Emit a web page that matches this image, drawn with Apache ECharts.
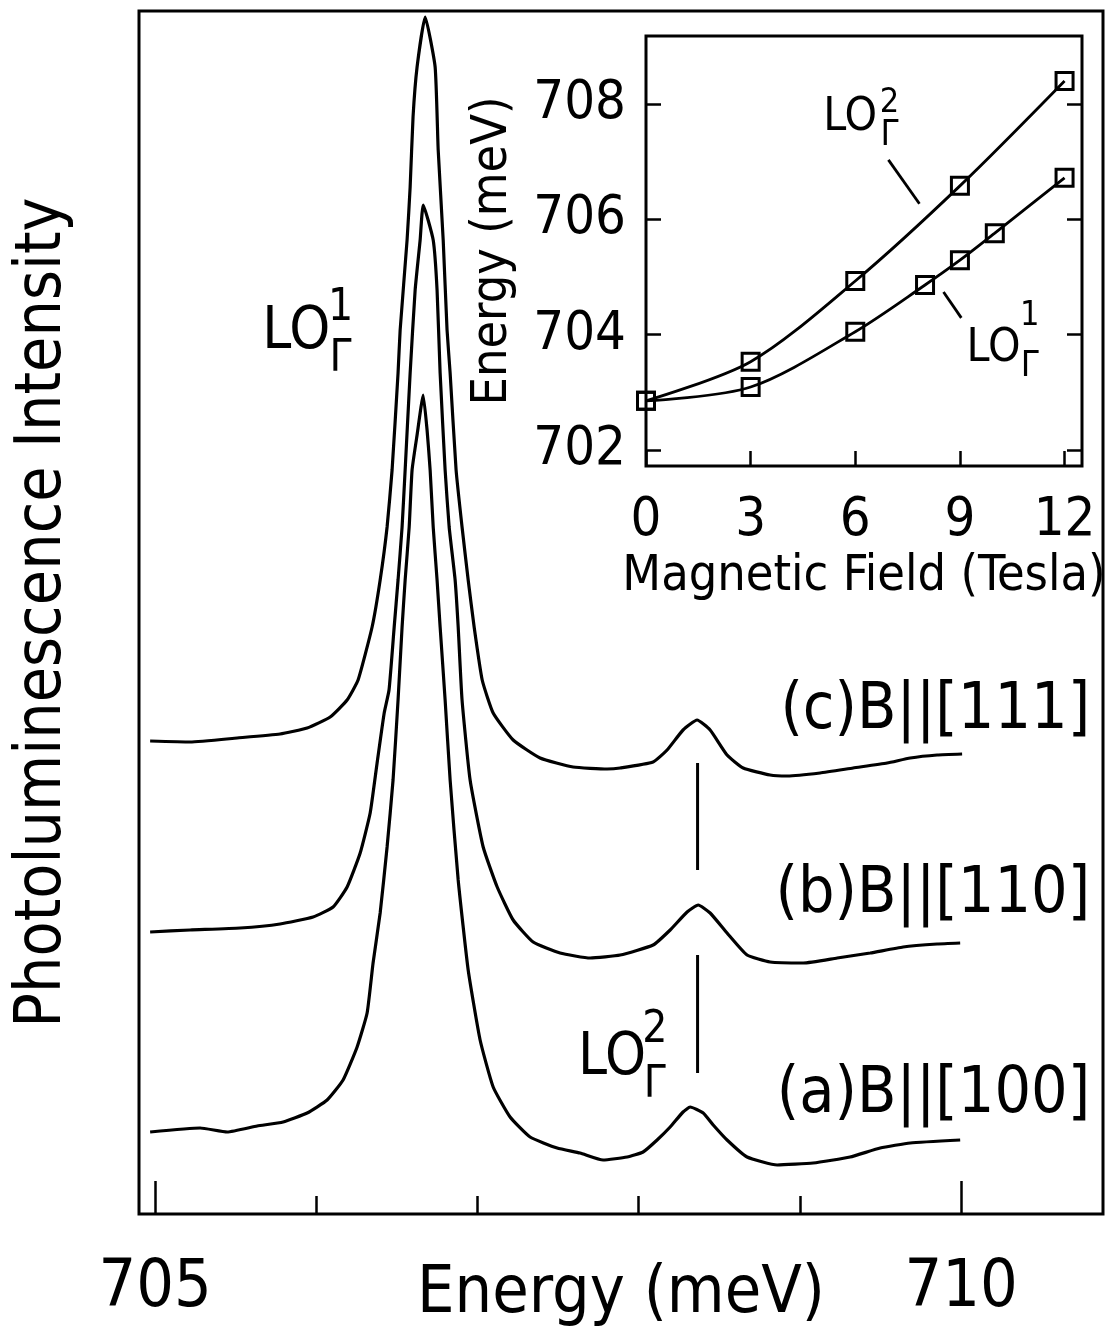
<!DOCTYPE html>
<html><head><meta charset="utf-8">
<script src="https://cdn.jsdelivr.net/npm/echarts@6/dist/echarts.min.js"></script>
<style>html,body{margin:0;padding:0;background:#fff}#c{width:1108px;height:1332px}</style>
</head><body><div id="c"></div>
<script>
// ---- main spectra: photon energy (meV) and PL intensity (arb. units, offset) ----
const energyA = [704.969,705.279,705.447,705.633,705.794,705.943,706.067,706.166,706.253,706.315,706.352,706.396,706.439,706.476,706.507,706.532,706.551,706.576,706.594,706.625,706.663,706.687,706.706,706.725,706.749,706.768,706.799,706.830,706.880,706.942,707.016,707.097,707.202,707.326,707.494,707.636,707.779,707.928,708.027,708.114,708.195,708.275,708.319,708.400,708.462,708.548,708.672,708.859,709.082,709.311,709.498,709.684,709.994];
const intensityA = [0.82,0.86,0.82,0.88,0.92,1.01,1.14,1.34,1.67,2.01,2.51,3.01,3.67,4.34,5.14,5.87,6.34,6.87,7.44,7.79,8.19,7.84,7.44,6.87,6.34,5.87,5.14,4.34,3.34,2.44,1.74,1.27,0.97,0.77,0.66,0.61,0.54,0.57,0.62,0.74,0.87,1.02,1.07,1.01,0.89,0.74,0.57,0.49,0.51,0.57,0.66,0.71,0.74];
const energyB = [704.969,705.217,705.527,705.775,705.980,706.104,706.191,706.272,706.334,706.377,706.421,706.451,706.483,706.507,706.532,706.551,706.582,706.613,706.644,706.663,706.725,706.749,706.768,706.799,706.824,706.861,706.880,706.904,706.954,707.035,707.122,707.221,707.345,707.512,707.699,707.885,708.089,708.195,708.300,708.369,708.443,708.548,708.672,708.815,709.020,709.231,709.436,709.640,709.851,709.994];
const intensityB = [2.82,2.84,2.86,2.90,2.97,3.07,3.27,3.61,4.01,4.51,5.01,5.24,5.87,6.34,6.87,7.44,8.41,9.24,9.74,10.09,9.74,9.24,8.41,7.44,6.87,6.34,5.87,5.14,4.34,3.67,3.27,2.94,2.72,2.61,2.56,2.59,2.69,2.84,3.02,3.09,3.01,2.81,2.59,2.52,2.51,2.56,2.61,2.67,2.70,2.71];
const energyC = [704.969,705.217,705.509,705.775,705.943,706.086,706.191,706.259,706.346,706.396,706.439,706.470,706.507,706.520,706.563,706.582,706.600,706.625,706.675,706.737,706.756,706.787,706.811,706.830,706.867,706.904,706.942,706.979,707.029,707.097,707.221,707.388,707.593,707.804,707.885,708.089,708.176,708.275,708.362,708.443,708.548,708.648,708.815,708.921,709.125,709.330,709.541,709.684,709.851,710.006];
const intensityC = [4.73,4.72,4.76,4.80,4.86,4.97,5.14,5.34,5.87,6.34,6.87,7.44,8.41,8.84,9.74,10.27,10.97,11.47,11.97,11.47,10.64,9.74,8.84,8.41,7.44,6.87,6.34,5.87,5.34,5.01,4.74,4.56,4.47,4.45,4.46,4.52,4.64,4.84,4.94,4.84,4.59,4.46,4.39,4.38,4.41,4.46,4.51,4.56,4.59,4.60];
// LO2 position marker (vertical strokes between spectra)
const markerEnergy = 708.365;
const markerUpper = [3.44, 4.51];
const markerLower = [1.41, 2.59];
// ---- inset: magnetic field (T) vs energy (meV) ----
const fieldLO2 = [0, 3, 6, 9, 12];
const energyLO2 = [702.85, 703.53, 704.93, 706.58, 708.40];
const fieldLO1 = [0, 3, 6, 8, 9, 10, 12];
const energyLO1 = [702.85, 703.09, 704.05, 704.86, 705.29, 705.76, 706.72];
// ---- tick labels ----
const mainLongTicks = [705, 710];
const mainShortTicks = [706, 707, 708, 709];
const insetFieldTicks = [0, 3, 6, 9, 12];
const insetEnergyTicks = [702, 704, 706, 708];
const curveLabels = ['(c)B||[111]', '(b)B||[110]', '(a)B||[100]'];

const FONT = "'Liberation Sans Narrow','DejaVu Sans Condensed','Liberation Sans',sans-serif";
const zip = (xs, ys) => xs.map((x, i) => [x, ys[i]]);
const BLACK = '#000';

const chart = echarts.init(document.getElementById('c'), null, {renderer: 'canvas'});

function lineSeries(data, xi, yi, w, extra) {
  return Object.assign({
    type: 'line', xAxisIndex: xi, yAxisIndex: yi, data: data,
    showSymbol: false, symbol: 'none', silent: true, animation: false,
    lineStyle: {color: BLACK, width: w}, itemStyle: {color: BLACK}
  }, extra || {});
}

const mainAnnot = [
  {name: 'LO', value: [705.664, 8.81], label: {fontSize: 58, align: 'left'}},
  {name: '1', value: [706.15, 9.05], label: {fontSize: 44}},
  {name: 'Γ', value: [706.15, 8.54], label: {fontSize: 44}},
  {name: 'LO', value: [707.624, 1.55], label: {fontSize: 58, align: 'left'}},
  {name: '2', value: [708.10, 1.835], label: {fontSize: 44}},
  {name: 'Γ', value: [708.10, 1.285], label: {fontSize: 44}},
  {name: curveLabels[0], value: [710.80, 5.025], label: {fontSize: 64, align: 'right'}},
  {name: curveLabels[1], value: [710.80, 3.19], label: {fontSize: 64, align: 'right'}},
  {name: curveLabels[2], value: [710.80, 1.19], label: {fontSize: 64, align: 'right'}}
];
const insetAnnot = [
  {name: 'LO', value: [5.08, 707.75], label: {fontSize: 46, align: 'left'}},
  {name: '2', value: [6.98, 708.02], label: {fontSize: 34}},
  {name: 'Γ', value: [6.98, 707.45], label: {fontSize: 36}},
  {name: 'LO', value: [9.19, 703.75], label: {fontSize: 46, align: 'left'}},
  {name: '1', value: [11.0, 704.32], label: {fontSize: 34}},
  {name: 'Γ', value: [11.0, 703.45], label: {fontSize: 36}}
];
function annotSeries(data, xi, yi) {
  return {
    type: 'scatter', xAxisIndex: xi, yAxisIndex: yi, symbolSize: 0, silent: true, animation: false,
    itemStyle: {opacity: 1, color: BLACK},
    data: data,
    label: {show: true, position: 'inside', formatter: '{b}', color: BLACK, fontFamily: FONT,
            align: 'center', verticalAlign: 'middle', opacity: 1}
  };
}

const option = {
  backgroundColor: '#fff',
  animation: false,
  textStyle: {fontFamily: FONT, color: BLACK},
  grid: [
    {left: 139, top: 11, width: 964, height: 1203, show: true, borderColor: BLACK, borderWidth: 3,
     backgroundColor: 'transparent', containLabel: false, outerBoundsMode: 'none'},
    {left: 646, top: 36, width: 436, height: 430, show: true, borderColor: BLACK, borderWidth: 3,
     backgroundColor: '#fff', containLabel: false, outerBoundsMode: 'none'}
  ],
  xAxis: [
    {gridIndex: 0, type: 'value', min: 704.9, max: 710.88, position: 'bottom',
     axisLine: {show: false}, splitLine: {show: false},
     axisTick: {show: true, inside: true, length: 33, customValues: mainLongTicks, lineStyle: {color: BLACK, width: 2.5}},
     axisLabel: {show: true, customValues: mainLongTicks, fontSize: 66, margin: 42, color: BLACK, fontFamily: FONT},
     name: 'Energy (meV)', nameLocation: 'middle', nameGap: 48, nameMoveOverlap: false,
     nameTextStyle: {fontSize: 66, color: BLACK, fontFamily: FONT}},
    {gridIndex: 0, type: 'value', min: 704.9, max: 710.88, position: 'bottom',
     axisLine: {show: false}, splitLine: {show: false},
     axisTick: {show: true, inside: true, length: 18, customValues: mainShortTicks, lineStyle: {color: BLACK, width: 2.5}},
     axisLabel: {show: false}},
    {gridIndex: 1, type: 'value', min: 0, max: 12.5, position: 'bottom',
     axisLine: {show: false}, splitLine: {show: false},
     axisTick: {show: true, inside: true, length: 15, customValues: insetFieldTicks, lineStyle: {color: BLACK, width: 2.5}},
     axisLabel: {show: true, customValues: insetFieldTicks, fontSize: 54, margin: 28, color: BLACK, fontFamily: FONT},
     name: 'Magnetic Field (Tesla)', nameLocation: 'middle', nameGap: 86, nameMoveOverlap: false,
     nameTextStyle: {fontSize: 50, color: BLACK, fontFamily: FONT}}
  ],
  yAxis: [
    {gridIndex: 0, type: 'value', min: 0, max: 12.03,
     axisLine: {show: false}, axisTick: {show: false}, axisLabel: {show: false}, splitLine: {show: false},
     name: 'Photoluminescence Intensity', nameLocation: 'middle', nameGap: 64, nameMoveOverlap: false,
     nameTextStyle: {fontSize: 64, color: BLACK, fontFamily: FONT}},
    {gridIndex: 1, type: 'value', min: 701.72, max: 709.18, position: 'left',
     axisLine: {show: false}, splitLine: {show: false},
     axisTick: {show: true, inside: true, length: 15, customValues: insetEnergyTicks, lineStyle: {color: BLACK, width: 2.5}},
     axisLabel: {show: true, customValues: insetEnergyTicks, fontSize: 54, margin: 20, color: BLACK, fontFamily: FONT},
     name: 'Energy (meV)', nameLocation: 'middle', nameGap: 128, nameMoveOverlap: false,
     nameTextStyle: {fontSize: 50, color: BLACK, fontFamily: FONT}},
    {gridIndex: 1, type: 'value', min: 701.72, max: 709.18, position: 'right',
     axisLine: {show: false}, splitLine: {show: false},
     axisTick: {show: true, inside: true, length: 15, customValues: insetEnergyTicks, lineStyle: {color: BLACK, width: 2.5}},
     axisLabel: {show: false}}
  ],
  series: [
    lineSeries(zip(energyA, intensityA), 0, 0, 3.2, {smooth: 0.15}),
    lineSeries(zip(energyB, intensityB), 0, 0, 3.2, {smooth: 0.15}),
    lineSeries(zip(energyC, intensityC), 0, 0, 3.2, {smooth: 0.15}),
    lineSeries(markerUpper.map(v => [markerEnergy, v]), 0, 0, 3),
    lineSeries(markerLower.map(v => [markerEnergy, v]), 0, 0, 3),
    lineSeries(zip(fieldLO2, energyLO2), 2, 1, 2.8, {smooth: 0.3, showSymbol: true, symbol: 'rect', symbolSize: 17,
      itemStyle: {color: 'rgba(0,0,0,0)', borderColor: BLACK, borderWidth: 3}}),
    lineSeries(zip(fieldLO1, energyLO1), 2, 1, 2.8, {smooth: 0.3, showSymbol: true, symbol: 'rect', symbolSize: 17,
      itemStyle: {color: 'rgba(0,0,0,0)', borderColor: BLACK, borderWidth: 3}}),
    lineSeries([[6.95, 707.03], [7.84, 706.27]], 2, 1, 2.8),
    lineSeries([[8.53, 704.74], [9.04, 704.29]], 2, 1, 2.8),
    annotSeries(mainAnnot, 0, 0),
    annotSeries(insetAnnot, 2, 1)
  ]
};
chart.setOption(option);
</script>
</body></html>
